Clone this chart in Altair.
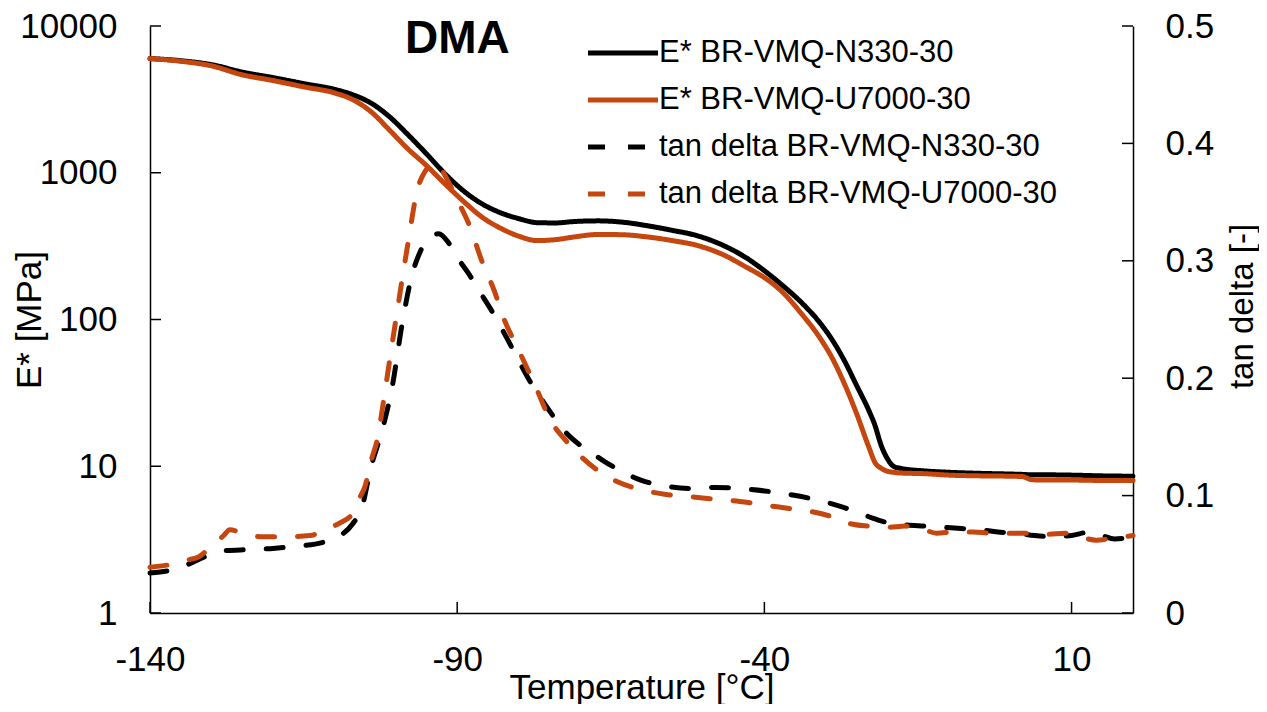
import altair as alt
import pandas as pd

# ---------------- data ----------------
SERIES = [
    "E* BR-VMQ-N330-30",
    "E* BR-VMQ-U7000-30",
    "tan delta BR-VMQ-N330-30",
    "tan delta BR-VMQ-U7000-30",
]

# E* (MPa), left log axis
E_T = [-140, -135, -130, -125, -120, -115, -110, -107, -104, -101, -98, -95, -92,
       -89, -86, -83, -80, -77, -74, -71, -67, -63, -59, -55, -51, -47, -43, -40,
       -37, -34, -31, -29, -27, -25, -23, -22, -21, -20, -19, -18, -14, -10, -5, 0,
       2, 3.5, 5, 10, 15, 20]
E_N330 = [6000, 5800, 5450, 4850, 4450, 4050, 3700, 3400, 2980, 2404, 1815, 1346, 985,
          754, 615, 535, 487, 457, 455, 465, 470, 460, 435, 405, 373, 324, 264, 215,
          170, 131, 95.4, 73.1, 52.6, 35.6, 24.0, 19.0, 13.9, 11.3, 10.0, 9.7, 9.3, 9.1,
          8.95, 8.85, 8.8, 8.75, 8.75, 8.7, 8.6, 8.55]
E_U7000 = [6000, 5750, 5350, 4650, 4250, 3850, 3500, 3150, 2600, 1950, 1450, 1120, 840,
           640, 500, 420, 370, 345, 350, 365, 380, 378, 365, 345, 320, 280, 228, 193,
           153, 110, 75.4, 55, 36.7, 22.9, 13.5, 10.6, 9.7, 9.25, 9.1, 9.0, 8.9, 8.7,
           8.6, 8.55, 8.5, 8.1, 8.05, 8.05, 8.0, 8.0]

# tan delta, right axis
TAN_T_N330 = [-140, -137, -134, -131, -128, -124, -120, -116, -112, -109, -107, -105.5,
              -104, -103, -102, -100.5, -99, -97.5, -96, -94.5, -93, -91.5, -90, -88,
              -86, -84, -82, -80, -78, -76, -74, -72, -70, -68, -66, -63, -60, -56,
              -52, -48, -44, -40, -36, -32, -29, -26, -23, -20, -17, -14, -11, -8, -5,
              -2, 1, 4, 7, 10, 13, 15, 17, 20]
TAN_N330 = [0.034, 0.036, 0.041, 0.048, 0.053, 0.054, 0.055, 0.057, 0.060, 0.066, 0.076,
            0.090, 0.125, 0.142, 0.160, 0.195, 0.245, 0.285, 0.308, 0.320, 0.323, 0.316,
            0.303, 0.288, 0.271, 0.254, 0.235, 0.215, 0.196, 0.180, 0.165, 0.152, 0.143,
            0.136, 0.129, 0.120, 0.113, 0.108, 0.106, 0.107, 0.106, 0.104, 0.101, 0.097,
            0.093, 0.088, 0.082, 0.077, 0.075, 0.074, 0.073, 0.072, 0.071, 0.069, 0.068,
            0.066, 0.065, 0.066, 0.069, 0.066, 0.063, 0.065]

TAN_T_U7000 = [-140, -137, -134, -132, -130, -128, -127, -125, -122, -118, -114, -111,
               -109, -107, -106, -105, -104, -103, -102, -101, -99.8, -98.1, -96.5, -95,
               -94, -93, -91.5, -90, -88, -86, -84, -82.5, -80, -77, -75, -72, -70, -67,
               -64, -60, -56, -52, -48, -44, -40, -36, -32, -29, -26, -23, -20, -17, -14,
               -12, -9, -6, -3, 0, 3, 6, 9, 12, 14, 17, 20]
TAN_U7000 = [0.039, 0.041, 0.045, 0.048, 0.057, 0.066, 0.071, 0.068, 0.065, 0.065, 0.066,
             0.072, 0.077, 0.085, 0.097, 0.108, 0.130, 0.148, 0.180, 0.215, 0.256, 0.312,
             0.360, 0.378, 0.384, 0.381, 0.368, 0.352, 0.330, 0.300, 0.275, 0.252, 0.224,
             0.190, 0.166, 0.145, 0.134, 0.121, 0.112, 0.105, 0.101, 0.099, 0.097, 0.095,
             0.092, 0.089, 0.086, 0.082, 0.076, 0.074, 0.073, 0.074, 0.071, 0.068, 0.069,
             0.069, 0.068, 0.068, 0.068, 0.067, 0.068, 0.064, 0.062, 0.064, 0.066]

X_TICKS = [-140, -90, -40, 10]
E_TICKS = [1, 10, 100, 1000, 10000]
TAN_TICKS = [0, 0.1, 0.2, 0.3, 0.4, 0.5]

# ---------------- styling ----------------
ORANGE = "#C5460F"
COLORS = ["#000000", ORANGE, "#000000", ORANGE]
DASHES = [[1, 0], [1, 0], [17, 23], [17, 23]]
FONT = "Liberation Sans"
W, H = 983, 587
TICK = 11

df_E = pd.concat([
    pd.DataFrame({"T": E_T, "v": E_N330, "series": SERIES[0]}),
    pd.DataFrame({"T": E_T, "v": E_U7000, "series": SERIES[1]}),
])
df_tan = pd.concat([
    pd.DataFrame({"T": TAN_T_N330, "v": TAN_N330, "series": SERIES[2]}),
    pd.DataFrame({"T": TAN_T_U7000, "v": TAN_U7000, "series": SERIES[3]}),
])

x_scale = alt.Scale(domain=[-140, 20], nice=False, zero=False)
e_scale = alt.Scale(type="log", domain=[1, 10000], nice=False)
t_scale = alt.Scale(domain=[0, 0.5], nice=False, zero=False)

legend = alt.Legend(
    title=None, orient="none", legendX=453, legendY=7, padding=0,
    labelFontSize=31, labelFont=FONT, labelColor="black", labelLimit=0,
    symbolType="M-2,0H2", symbolSize=1225, symbolStrokeWidth=5,
    labelOffset=16, rowPadding=12,
)
color = alt.Color("series:N", scale=alt.Scale(domain=SERIES, range=COLORS), legend=legend)
dash = alt.StrokeDash("series:N", scale=alt.Scale(domain=SERIES, range=DASHES), legend=legend)

x_axis = alt.Axis(values=X_TICKS, format="d", title="Temperature [°C]",
                  labelExpr="replace(datum.label, '\u2212', '-')",
                  labelPadding=29, titleY=85, titleBaseline="alphabetic")
e_axis = alt.Axis(orient="left", values=E_TICKS, format="d", title="E* [MPa]",
                  labelPadding=33, titleX=-121, titleY=H / 2, titleAngle=270,
                  titleBaseline="middle")
t_axis = alt.Axis(orient="right", values=TAN_TICKS, format="~g", title="tan delta [-]",
                  labelPadding=32, titleX=119, titleY=280, titleAngle=270,
                  titleBaseline="alphabetic", titleFontSize=33)

e_lines = alt.Chart(df_E).mark_line(
    strokeWidth=5, strokeCap="round", strokeJoin="round", interpolate="monotone"
).encode(
    x=alt.X("T:Q", scale=x_scale, axis=x_axis),
    y=alt.Y("v:Q", scale=e_scale, axis=e_axis),
    color=color, strokeDash=dash,
)

# inward tick marks
x_ticks = alt.Chart(pd.DataFrame({"T": X_TICKS})).mark_rule(
    color="black", strokeWidth=1.5
).encode(
    x=alt.X("T:Q", scale=x_scale, axis=x_axis),
    y=alt.value(H - TICK), y2=alt.value(H),
)
e_ticks = alt.Chart(pd.DataFrame({"v": E_TICKS})).mark_rule(
    color="black", strokeWidth=1.5
).encode(
    y=alt.Y("v:Q", scale=e_scale, axis=e_axis),
    x=alt.value(0), x2=alt.value(TICK),
)

tan_lines = alt.Chart(df_tan).mark_line(
    strokeWidth=5, strokeCap="round", strokeJoin="round", interpolate="monotone"
).encode(
    x=alt.X("T:Q", scale=x_scale, axis=x_axis),
    y=alt.Y("v:Q", scale=t_scale, axis=t_axis),
    color=color, strokeDash=dash,
)
t_ticks = alt.Chart(pd.DataFrame({"v": TAN_TICKS})).mark_rule(
    color="black", strokeWidth=1.5
).encode(
    y=alt.Y("v:Q", scale=t_scale, axis=t_axis),
    x=alt.value(W - TICK), x2=alt.value(W),
)

left = alt.layer(e_lines, x_ticks, e_ticks)
right = alt.layer(tan_lines, t_ticks)

chart = alt.layer(left, right).resolve_scale(y="independent").properties(
    width=W, height=H,
    autosize=alt.AutoSizeParams(type="none"),
    padding={"left": 142, "top": 18, "right": 126, "bottom": 91},
    title=alt.TitleParams("DMA", anchor="start", frame="group", fontSize=46,
                          fontWeight="bold", font=FONT, color="black",
                          dx=255, dy=54, offset=0),
).configure_view(stroke=None).configure_axis(
    grid=False, ticks=False, tickSize=0, domainColor="black", domainWidth=1.5,
    labelFont=FONT, labelFontSize=35, labelColor="black",
    titleFont=FONT, titleFontSize=35, titleFontWeight="normal", titleColor="black",
    labelFlush=False, labelOverlap=False,
)

chart.save("out.html", embed_options={"renderer": "svg", "actions": False})
